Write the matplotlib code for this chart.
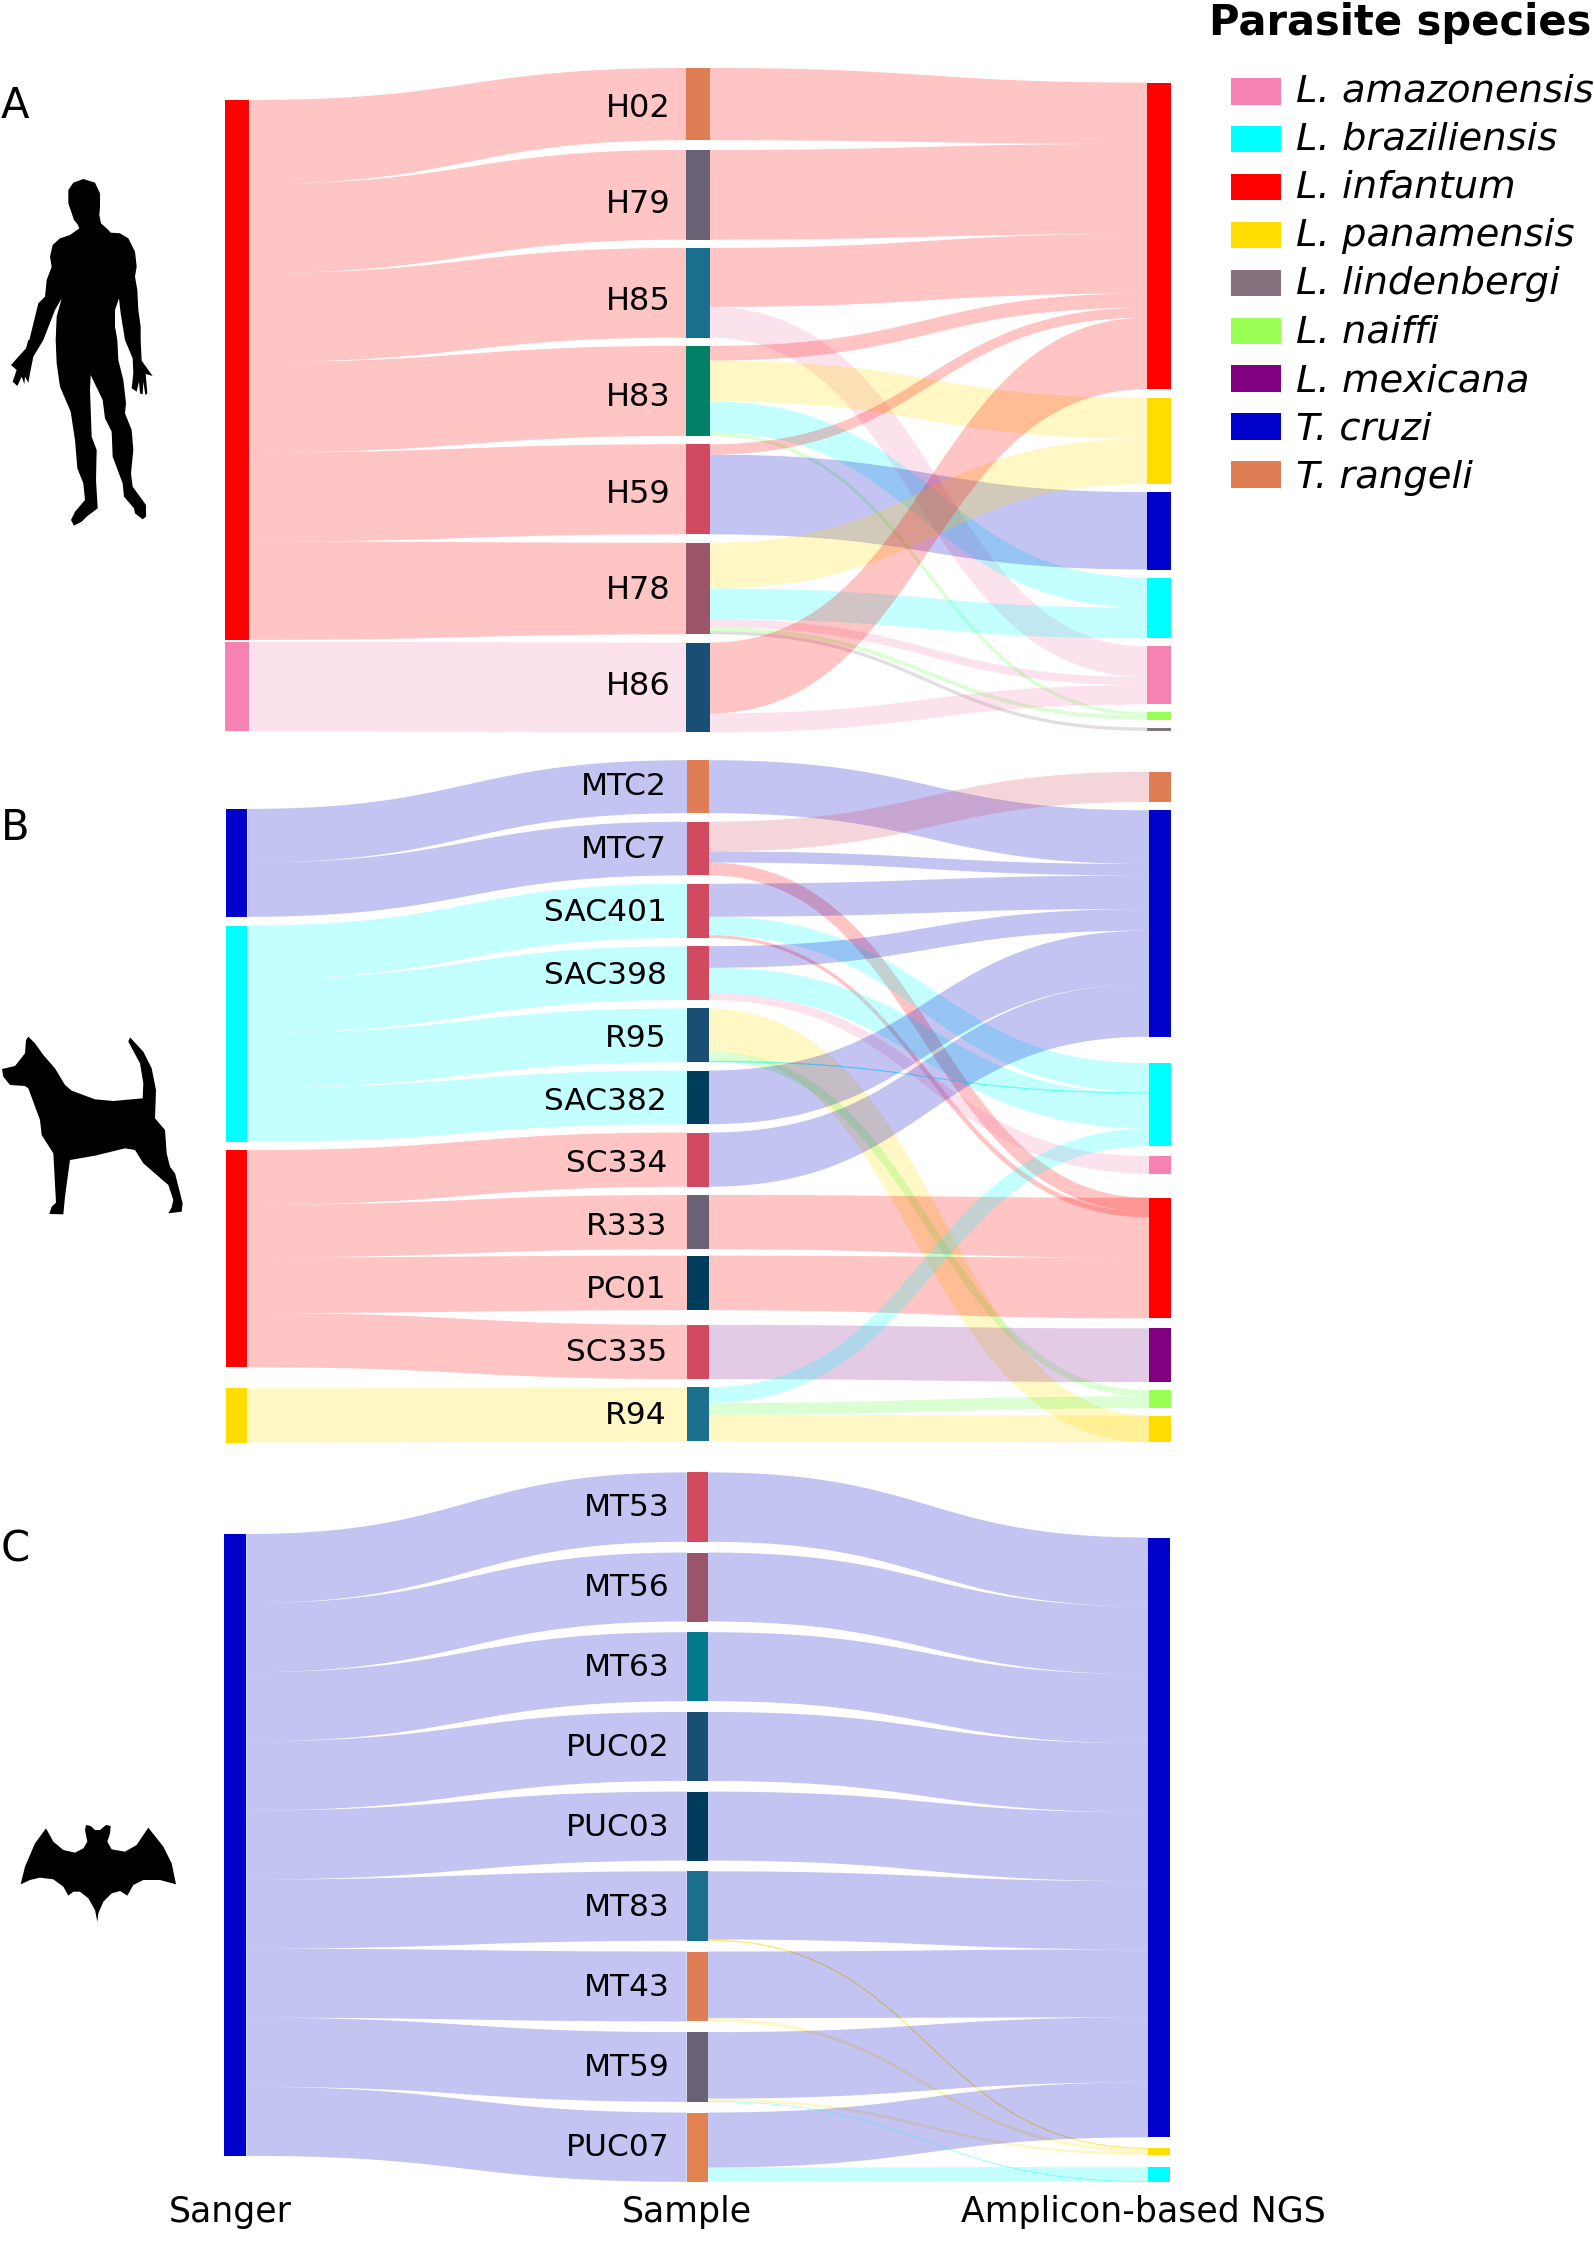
import numpy as np
import matplotlib
matplotlib.use("Agg")
import matplotlib.pyplot as plt
from matplotlib.patches import Rectangle, Polygon

plt.rcParams['font.family'] = ['DejaVu Sans']

# ---------- species ----------
species_names = ["L. amazonensis", "L. braziliensis", "L. infantum", "L. panamensis",
                 "L. lindenbergi", "L. naiffi", "L. mexicana", "T. cruzi", "T. rangeli"]
species_keys = ["ama", "bra", "inf", "pan", "lin", "nai", "mex", "cru", "ran"]
species_colors = ["#F582B0", "#00FFFF", "#FF0000", "#FFDD00", "#85707E",
                  "#99FF55", "#800080", "#0000CC", "#DF7D55"]
link_colors = ["#F582B0", "#00FFFF", "#FF0000", "#FFDD00", "#85707E",
               "#5CFF40", "#8A2192", "#0000CC", "#D14A60"]
COL = dict(zip(species_keys, species_colors))
LCOL = dict(zip(species_keys, link_colors))

# ---------- panel A (human) ----------
a_samples = ["H02", "H79", "H85", "H83", "H59", "H78", "H86"]
a_sample_colors = ["#DF7D55", "#6A6175", "#1A6E8E", "#008066", "#D14A60", "#9A5568", "#1A4F75"]
a_sanger = ["inf", "inf", "inf", "inf", "inf", "inf", "ama"]
a_sanger_w = [84, 89, 89, 90.5, 89, 98.4, 89.7]
a_sanger_order = ["inf", "ama"]
a_ngs_order = ["inf", "pan", "cru", "bra", "ama", "nai", "lin"]
a_src = ["H02", "H79", "H85", "H85", "H83", "H83", "H83", "H83", "H59", "H59",
         "H78", "H78", "H78", "H78", "H78", "H86", "H86"]
a_dst = ["inf", "inf", "inf", "ama", "inf", "pan", "bra", "nai", "inf", "cru",
         "pan", "bra", "ama", "nai", "lin", "inf", "ama"]
a_w_sample = [72.2, 89.7, 59, 30.7, 14.6, 41, 31.1, 3.3, 10.4, 79.8,
              45.8, 30.7, 8, 3.8, 3.3, 70.8, 19]
a_w_ngs = [61.3, 90.1, 59.5, 30.7, 14.2, 41, 30.2, 3.3, 9.9, 77.4,
           45.3, 30.7, 8, 3.8, 3.3, 71.7, 19.3]
a_layer = [0] * 17

# ---------- panel B (dog) ----------
b_samples = ["MTC2", "MTC7", "SAC401", "SAC398", "R95", "SAC382", "SC334", "R333", "PC01", "SC335", "R94"]
b_sample_colors = ["#DF7D55", "#D14A60", "#D14A60", "#D14A60", "#1A4F75", "#003D5C",
                   "#D14A60", "#6A6175", "#003D5C", "#D14A60", "#1A6E8E"]
b_sanger = ["cru", "cru", "bra", "bra", "bra", "bra", "inf", "inf", "inf", "inf", "pan"]
b_sanger_w = [53.7, 54.2, 53.3, 54.2, 54.6, 54.2, 54.6, 52.8, 55.6, 54.2, 54.2]
b_sanger_order = ["cru", "bra", "inf", "pan"]
b_ngs_order = ["ran", "cru", "bra", "ama", "inf", "mex", "nai", "pan"]
b_src = ["MTC2", "MTC7", "MTC7", "MTC7", "SAC401", "SAC401", "SAC401", "R95", "R95", "R95",
         "SAC398", "SAC398", "SAC398", "SAC382", "SC334", "R333", "PC01", "SC335", "R94", "R94", "R94"]
b_dst = ["cru", "ran", "cru", "inf", "cru", "bra", "inf", "pan", "nai", "bra",
         "cru", "bra", "ama", "cru", "cru", "inf", "inf", "mex", "bra", "nai", "pan"]
b_w_sample = [53, 29.8, 11, 12.9, 33, 18.4, 2.8, 43.2, 9.2, 1.4,
              21.6, 25.7, 6.4, 53.7, 54.2, 54.2, 54.6, 54.2, 15.6, 11.9, 26.6]
b_w_ngs = [53.7, 30.3, 11.5, 14.2, 33.5, 29.4, 5.5, 26.6, 6, 0.9,
           21.6, 35.5, 17.9, 53.3, 52.8, 60.1, 60.6, 53.7, 17.6, 11.9, 26.6]
b_layer = [0, 0, 0, 1, 0, 0, 1, 1, 0, 0, 0, 0, 0, 0, 0, 0, 0, 0, 0, 0, 0]

# ---------- panel C (bat) ----------
c_samples = ["MT53", "MT56", "MT63", "PUC02", "PUC03", "MT83", "MT43", "MT59", "PUC07"]
c_sample_colors = ["#D14A60", "#9A5568", "#007A8C", "#1A4F75", "#003D5C", "#1A6E8E",
                   "#DF7D55", "#6A6175", "#E28250"]
c_sanger = ["cru"] * 9
c_sanger_w = [69.1] * 9
c_sanger_order = ["cru"]
c_ngs_order = ["cru", "pan", "bra"]
c_src = ["MT53", "MT56", "MT63", "PUC02", "PUC03", "MT83", "MT83", "MT43", "MT43",
         "MT59", "MT59", "PUC07", "PUC07", "MT59"]
c_dst = ["cru", "cru", "cru", "cru", "cru", "cru", "pan", "cru", "pan",
         "cru", "pan", "cru", "bra", "bra"]
c_w_sample = [69.4, 69, 69, 69, 69, 68.2, 1.3, 66.6, 3.3, 66.5, 2.7, 55, 14.3, 0.5]
c_w_ngs = [68.9, 67.8, 69.2, 68.9, 68.9, 68.2, 1.3, 68, 3.3, 65, 2.7, 55, 14.3, 0.7]
c_layer = [0] * 14

# ---------- layout ----------
W, H = 1594, 2253
LINK_ALPHA = 0.23
NARROW = 46
fig = plt.figure(figsize=(W / 100, H / 100), dpi=100)
ax = fig.add_axes([0, 0, 1, 1])
ax.set_xlim(0, W)
ax.set_ylim(H, 0)
ax.axis("off")


def bez(t, a, b, c, d):
    return (1 - t) ** 3 * a + 3 * (1 - t) ** 2 * t * b + 3 * (1 - t) * t ** 2 * c + t ** 3 * d


def ribbon(x0, t0, w0, x1, t1, w1, color):
    t = np.linspace(0, 1, 140)
    xm = (x0 + x1) / 2
    bx = bez(t, x0, xm, xm, x1)
    if max(w0, w1) <= NARROW:
        # lone narrow band: constant width measured across the curve
        c0, c1 = t0 + w0 / 2, t1 + w1 / 2
        by = bez(t, c0, c0, c1, c1)
        dx = 3 * (1 - t) ** 2 * (xm - x0) + 3 * t ** 2 * (x1 - xm)
        dy = 6 * (1 - t) * t * (c1 - c0)
        n = np.hypot(dx, dy)
        nx, ny = -dy / n, dx / n
        hw = (w0 + (w1 - w0) * t) / 2
        upper = np.column_stack([bx - nx * hw, by - ny * hw])
        lower = np.column_stack([bx + nx * hw, by + ny * hw])
    else:
        # broad band: separate top and bottom edges
        upper = np.column_stack([bx, bez(t, t0, t0, t1, t1)])
        lower = np.column_stack([bx, bez(t, t0 + w0, t0 + w0, t1 + w1, t1 + w1)])
    alpha = 0.6 if max(w0, w1) < 1.6 else LINK_ALPHA
    ax.add_patch(Polygon(np.vstack([upper, lower[::-1]]), closed=True, facecolor=color,
                         edgecolor="none", lw=0, alpha=alpha, zorder=1))


def node(x0, x1, top, height, color):
    ax.add_patch(Rectangle((x0, top), x1 - x0, height, facecolor=color,
                           edgecolor="none", lw=0, zorder=2))


def panel(samples, sample_colors, sanger, sanger_w, sanger_order, ngs_order,
          src, dst, w_sample, w_ngs, layer,
          xs, sample_top, sample_gaps, sanger_top, sanger_gaps, ngs_top, ngs_gaps,
          label_right, label_first, label_pitch, label_size):
    (l0, l1), (m0, m1), (r0, r1) = xs
    heights = {s: 0.0 for s in samples}
    for s, w in zip(src, w_sample):
        heights[s] += w
    tops, y = {}, sample_top
    for i, s in enumerate(samples):
        tops[s] = y
        y += heights[s] + (sample_gaps[i] if i < len(sample_gaps) else 0)
    totals = {k: 0.0 for k in ngs_order}
    for d, w, lay in zip(dst, w_ngs, layer):
        if lay == 0:
            totals[d] += w
    ngs_tops, y = {}, ngs_top
    for i, k in enumerate(ngs_order):
        ngs_tops[k] = y
        y += totals[k] + (ngs_gaps[i] if i < len(ngs_gaps) else 0)
    s_tot = {k: 0.0 for k in sanger_order}
    for k, w in zip(sanger, sanger_w):
        s_tot[k] += w
    s_tops, y = {}, sanger_top
    for i, k in enumerate(sanger_order):
        s_tops[k] = y
        y += s_tot[k] + (sanger_gaps[i] if i < len(sanger_gaps) else 0)
    cur = dict(s_tops)
    for s, k, w in zip(samples, sanger, sanger_w):
        ribbon(l1, cur[k], w, m0, tops[s], heights[s], LCOL[k])
        cur[k] += w
    cur_s = dict(tops)
    cur_n = {(k, 0): ngs_tops[k] for k in ngs_order}
    cur_n.update({(k, 1): ngs_tops[k] for k in ngs_order})
    for s, d, ws, wn, lay in zip(src, dst, w_sample, w_ngs, layer):
        ribbon(m1, cur_s[s], ws, r0, cur_n[(d, lay)], wn, LCOL[d])
        cur_s[s] += ws
        cur_n[(d, lay)] += wn
    for k in sanger_order:
        node(l0, l1, s_tops[k], s_tot[k], COL[k])
    for s, c in zip(samples, sample_colors):
        node(m0, m1, tops[s], heights[s], c)
    for k in ngs_order:
        node(r0, r1, ngs_tops[k], totals[k], COL[k])
    for i, s in enumerate(samples):
        ax.text(label_right, label_first + i * label_pitch, s, ha="right", va="center",
                fontsize=label_size, color="black", zorder=3)


panel(a_samples, a_sample_colors, a_sanger, a_sanger_w, a_sanger_order, a_ngs_order,
      a_src, a_dst, a_w_sample, a_w_ngs, a_layer,
      ((225, 249.5), (686, 710), (1147, 1171)),
      68, [9.7, 8.3, 8.3, 8.3, 8.3, 8.3], 100, [1.7], 82.6, [8.5, 8, 8, 8, 8, 8],
      671, 108.5, 96.4, 23)

panel(b_samples, b_sample_colors, b_sanger, b_sanger_w, b_sanger_order, b_ngs_order,
      b_src, b_dst, b_w_sample, b_w_ngs, b_layer,
      ((226, 247.5), (687, 709), (1149, 1171)),
      760.2, [8.5, 8.3, 8.3, 8.5, 8.3, 8.3, 8.3, 6.4, 14.7, 8.3],
      808.9, [8.7, 8.3, 21], 771.7, [8.3, 26.2, 9.6, 23.9, 10, 8.3, 7.3],
      667, 786.5, 62.9, 22.5)

panel(c_samples, c_sample_colors, c_sanger, c_sanger_w, c_sanger_order, c_ngs_order,
      c_src, c_dst, c_w_sample, c_w_ngs, c_layer,
      ((224.5, 246.4), (686.7, 708), (1148, 1170)),
      1472.4, [10.7] * 8, 1534, [], 1537.5, [10.2, 12],
      670, 1508, 79.9, 22.5)

# ---------- panel letters and column titles ----------
for letter, y in zip(["A", "B", "C"], [106, 828, 1550]):
    ax.text(15, y, letter, ha="center", va="center", fontsize=30, color="black")
for txt, x in zip(["Sanger", "Sample", "Amplicon-based NGS"], [230.6, 686.7, 1143]):
    ax.text(x, 2212, txt, ha="center", va="center", fontsize=25, color="black")

# ---------- legend ----------
ax.text(1400, 35, "Parasite species", ha="center", va="baseline", fontsize=30,
        fontweight="bold", color="black")
for i, (n, c) in enumerate(zip(species_names, species_colors)):
    ax.add_patch(Rectangle((1231, 78 + i * 47.9), 50, 26.5, facecolor=c, edgecolor="none", lw=0))
    ax.text(1296, 101.5 + i * 48.25, n, ha="left", va="baseline", fontsize=27.7,
            style="italic", color="black")

# ---------- silhouettes (traced outlines, crop px / 3) ----------
human_up = [(250,27),(285,38),(300,70),(300,110),(298,135),(303,160),(325,180),(332,188),
            (360,190),(385,205),(405,245),(410,290),(405,320),(412,360),(415,420),(422,470),(422,510)]
human_r_arm = [(425,62),(445,90),(458,108),(437,102),(442,160),(436,165),(430,125),(428,163),
               (420,160),(417,125),(410,155),(403,150),(395,145),(400,100),(398,55),(375,0)]
human_pit_r = [(362,430),(357,385),(345,420),(345,470),(352,510)]
human_low = [(355,60),(370,120),(378,190),(375,220),(395,270),(400,330),(393,400),(398,440),
             (438,495),(438,530),(428,538),(405,520),(402,505),(372,470),(368,430),(338,350),
             (335,275),(315,235),(308,180),(272,105),(270,150),(275,290),(290,330),(288,420),
             (293,505),(260,530),(245,545),(222,557),(213,540),(225,515),(255,480),(250,430),
             (232,385),(225,300),(212,215),(180,140),(170,70),(167,0)]
human_pit_l = [(170,440),(185,385),(165,420),(130,510)]
human_l_arm = [(100,50),(90,100),(85,128),(75,110),(73,132),(65,110),(52,138),(38,125),
               (50,90),(33,75),(78,25),(85,0)]
human_top = [(115,400),(135,380),(140,330),(155,290),(150,260),(158,225),(180,205),(210,195),
             (238,175),(232,162),(222,150),(205,100),(205,60),(220,38)]
human = ([(x / 3, 170 + y / 3) for x, y in human_up]
         + [(x / 3, 340 + y / 3) for x, y in human_r_arm]
         + [(x / 3, 170 + y / 3) for x, y in human_pit_r]
         + [(x / 3, 340 + y / 3) for x, y in human_low]
         + [(x / 3, 170 + y / 3) for x, y in human_pit_l]
         + [(x / 3, 340 + y / 3) for x, y in human_l_arm]
         + [(88 / 3, 170 + 510 / 3)]
         + [(x / 3, 170 + y / 3) for x, y in human_top])
dog_px = [(85,50),(105,70),(130,105),(165,145),(195,195),(215,212),(285,238),(340,243),(428,235),
          (430,190),(420,130),(385,65),(390,52),(430,95),(455,145),(468,210),(465,295),(495,330),
          (500,400),(510,440),(525,460),(548,550),(545,575),(505,580),(515,562),(520,540),(505,495),
          (430,430),(405,390),(375,385),(285,407),(210,420),(195,530),(190,583),(148,582),(155,560),
          (168,548),(160,400),(125,345),(120,300),(85,205),(75,198),(30,195),(10,170),(6,147),
          (45,138),(75,100),(78,60)]
dog = [(x / 3, 1020 + y / 3) for x, y in dog_px]
bat_px = [(138,85),(160,125),(190,150),(225,158),(250,145),(262,125),(255,90),(258,75),(272,78),
          (285,90),(300,90),(318,75),(332,78),(330,100),(322,125),(335,148),(375,155),(410,135),
          (430,105),(445,83),(490,140),(515,190),(528,253),(480,240),(430,240),(400,255),(382,287),
          (360,273),(335,280),(310,305),(295,340),(292,365),(285,330),(265,295),(240,275),(220,275),
          (205,287),(190,260),(160,238),(120,233),(90,240),(62,253),(75,200),(105,130)]
bat = [(x / 3, 1800 + y / 3) for x, y in bat_px]
for outline in (human, dog, bat):
    ax.add_patch(Polygon(outline, closed=True, facecolor="black", edgecolor="none", lw=0))

fig.savefig("out.png", dpi=100)
